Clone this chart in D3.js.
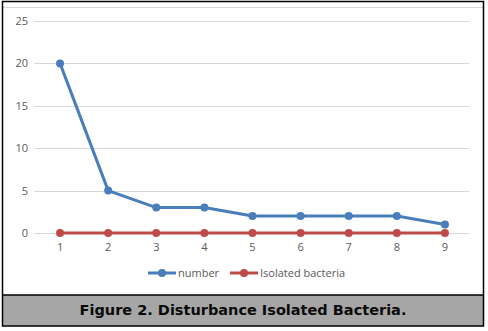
<!DOCTYPE html>
<html><head><meta charset="utf-8">
<script src="https://cdn.jsdelivr.net/npm/d3@7"></script>
<style>html,body{margin:0;padding:0;background:#fff;}svg{display:block;}</style>
</head><body>
<script>
const categories = [1,2,3,4,5,6,7,8,9];
const numberSeries = [20,5,3,3,2,2,2,2,1];
const isolatedSeries = [0,0,0,0,0,0,0,0,0];
const yTicks = [0,5,10,15,20,25];
const seriesNames = ["number","Isolated bacteria"];
const caption = "Figure 2. Disturbance Isolated Bacteria.";

const W = 488, H = 331;
const svg = d3.select("body").append("svg").attr("width", W).attr("height", H);

// chart light border
svg.append("line").attr("x1",3).attr("x2",483).attr("y1",7.5).attr("y2",7.5)
  .attr("stroke","#d9d9d9").attr("stroke-width",1);

const plot = {left:34, right:469, top:21, bottom:233};
const x = d3.scaleBand().domain(categories).range([36, plot.right]);
const y = d3.scaleLinear().domain([0,25]).range([plot.bottom, plot.top]);

// gridlines
svg.append("g").selectAll("line").data(yTicks).join("line")
  .attr("x1",plot.left).attr("x2",plot.right)
  .attr("y1",d=>Math.round(y(d))+0.5).attr("y2",d=>Math.round(y(d))+0.5)
  .attr("stroke","#d9d9d9").attr("stroke-width",1);

const font = "'Open Sans', 'Noto Sans', sans-serif";
// y labels
svg.append("g").selectAll("text").data(yTicks).join("text")
  .attr("x",28).attr("y",d=>y(d)+4).attr("text-anchor","end")
  .attr("font-family",font).attr("font-size",11).attr("fill","#595959")
  .text(d=>d);
// x labels
svg.append("g").selectAll("text").data(categories).join("text")
  .attr("x",d=>x(d)+x.bandwidth()/2).attr("y",251).attr("text-anchor","middle")
  .attr("font-family",font).attr("font-size",11).attr("fill","#595959")
  .text(d=>d);

const colors = ["#4a7ebb","#be4b48"];
const series = [numberSeries, isolatedSeries];
const line = d3.line().x((d,i)=>x(categories[i])+x.bandwidth()/2).y(d=>y(d));
[1,0].forEach(s=>{
  svg.append("path").datum(series[s]).attr("d",line).attr("fill","none")
    .attr("stroke",colors[s]).attr("stroke-width",3).attr("stroke-linejoin","round");
  svg.append("g").selectAll("circle").data(series[s]).join("circle")
    .attr("cx",(d,i)=>x(categories[i])+x.bandwidth()/2).attr("cy",d=>y(d)).attr("r",4)
    .attr("fill",colors[s]);
});

// legend
const legX = [148, 230];
seriesNames.forEach((n,i)=>{
  const g = svg.append("g");
  g.append("line").attr("x1",legX[i]).attr("x2",legX[i]+28).attr("y1",273).attr("y2",273)
    .attr("stroke",colors[i]).attr("stroke-width",3);
  g.append("circle").attr("cx",legX[i]+14).attr("cy",273).attr("r",4).attr("fill",colors[i]);
  g.append("text").attr("x",legX[i]+30).attr("y",277).attr("font-family",font)
    .attr("font-size",11).attr("fill","#595959").text(n);
});

// caption box
svg.append("rect").attr("x",3).attr("y",295).attr("width",481).attr("height",31)
  .attr("fill","#a6a6a6");
svg.append("text").attr("x",243).attr("y",315).attr("text-anchor","middle")
  .attr("font-family","'DejaVu Sans', Verdana, sans-serif").attr("font-weight","bold")
  .attr("font-size",14.5).attr("fill","#0a0a0a").text(caption);
// outer border
svg.append("rect").attr("x",2.5).attr("y",1.5).attr("width",481).attr("height",324.5)
  .attr("fill","none").attr("stroke","#000").attr("stroke-width",1.5);
svg.append("line").attr("x1",2.5).attr("x2",483.5).attr("y1",295).attr("y2",295)
  .attr("stroke","#000").attr("stroke-width",1.5);
</script>
</body></html>
